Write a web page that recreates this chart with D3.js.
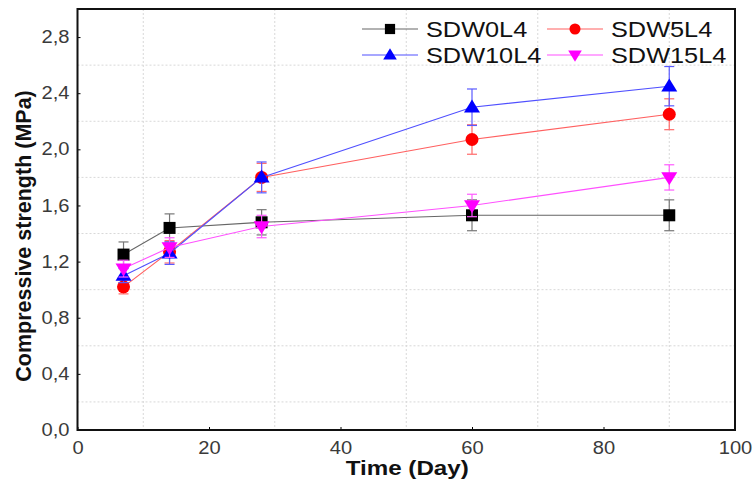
<!DOCTYPE html>
<html>
<head>
<meta charset="utf-8">
<script src="https://cdn.jsdelivr.net/npm/d3@7"></script>
<style>
  html, body { margin: 0; padding: 0; background: #fff; }
  svg { display: block; font-family: "Liberation Sans", Arial, sans-serif; }
</style>
</head>
<body>
<svg id="chart" width="753" height="481"></svg>
<script>
// Curing time (days)
const days = [7, 14, 28, 60, 90];

// Series names
const seriesNames = ["SDW0L4", "SDW5L4", "SDW10L4", "SDW15L4"];

// Mean compressive strength (MPa)
const sdw0l4  = [1.25, 1.44, 1.48, 1.53, 1.53];
const sdw5l4  = [1.02, 1.27, 1.80, 2.07, 2.25];
const sdw10l4 = [1.10, 1.26, 1.80, 2.30, 2.45];
const sdw15l4 = [1.15, 1.30, 1.45, 1.60, 1.80];

// Standard deviations (MPa)
const sdw0l4Err  = [0.09, 0.10, 0.09, 0.11, 0.11];
const sdw5l4Err  = [0.05, 0.08, 0.10, 0.105, 0.11];
const sdw10l4Err = [0.05, 0.08, 0.11, 0.13, 0.14];
const sdw15l4Err = [0.06, 0.07, 0.08, 0.08, 0.09];

// Axis ticks
const xTicks = [0, 20, 40, 60, 80, 100];
const yTicks = [0, 0.4, 0.8, 1.2, 1.6, 2.0, 2.4, 2.8];
const xGrid = [10, 30, 50, 70, 90];
const yGrid = [0.2, 0.6, 1.0, 1.4, 1.8, 2.2, 2.6];

const styles = [
  { line: "#666666", fill: "#000000", err: "#777777", shape: "square" },
  { line: "#ff6060", fill: "#ff0000", err: "#ff6a6a", shape: "circle" },
  { line: "#5050ff", fill: "#0000ff", err: "#5a5aff", shape: "up" },
  { line: "#ff50ff", fill: "#ff00ff", err: "#ff5aff", shape: "down" }
];

const series = [
  { name: seriesNames[0], values: sdw0l4,  errs: sdw0l4Err },
  { name: seriesNames[1], values: sdw5l4,  errs: sdw5l4Err },
  { name: seriesNames[2], values: sdw10l4, errs: sdw10l4Err },
  { name: seriesNames[3], values: sdw15l4, errs: sdw15l4Err }
];

const svg = d3.select("#chart");
const plot = { left: 77.5, right: 735, top: 9, bottom: 430 };
const stretch = 1.15; // horizontal widening of the lettering

const x = d3.scaleLinear().domain([0, 100]).range([plot.left, plot.right]);
const y = d3.scaleLinear().domain([0, 3.0]).range([plot.bottom, plot.top]);

const fmt = d => d3.format(".1f")(d).replace(".", ",");

// Widen a horizontal text element by the stretch factor
function widen(sel) {
  sel.each(function () {
    const w = this.getComputedTextLength();
    d3.select(this).attr("textLength", w * stretch).attr("lengthAdjust", "spacingAndGlyphs");
  });
  return sel;
}

// Dashed grid
const grid = svg.append("g");
grid.selectAll("line.gx").data(xGrid).join("line")
  .attr("x1", d => x(d)).attr("x2", d => x(d))
  .attr("y1", plot.top).attr("y2", plot.bottom)
  .attr("stroke", "#d8d8d8").attr("stroke-width", 1).attr("stroke-dasharray", "2,2");
grid.selectAll("line.gy").data(yGrid).join("line")
  .attr("x1", plot.left).attr("x2", plot.right)
  .attr("y1", d => y(d)).attr("y2", d => y(d))
  .attr("stroke", "#d8d8d8").attr("stroke-width", 1).attr("stroke-dasharray", "2,2");

// Axes
const xAxis = d3.axisBottom(x).tickValues(xTicks).tickSize(-3).tickPadding(8).tickFormat(d3.format("d"));
const yAxis = d3.axisLeft(y).tickValues(yTicks).tickSize(-3).tickPadding(8).tickFormat(fmt);

const gx = svg.append("g").attr("transform", `translate(0,${plot.bottom})`).call(xAxis);
const gy = svg.append("g").attr("transform", `translate(${plot.left},0)`).call(yAxis);
[gx, gy].forEach(g => {
  g.select(".domain").remove();
  g.selectAll(".tick line").attr("stroke", "#000");
  g.selectAll(".tick text").attr("fill", "#3a3a3a").attr("font-size", 17.5)
    .attr("font-family", "'Liberation Sans', Arial, sans-serif");
});
gx.selectAll(".tick text").attr("dy", "0.9em");
widen(gx.selectAll(".tick text"));
widen(gy.selectAll(".tick text"));

// Frame
svg.append("rect")
  .attr("x", plot.left).attr("y", plot.top)
  .attr("width", plot.right - plot.left).attr("height", plot.bottom - plot.top)
  .attr("fill", "none").attr("stroke", "#111").attr("stroke-width", 2);

// Axis titles
widen(svg.append("text")
  .attr("x", (plot.left + plot.right) / 2 + 1).attr("y", 475)
  .attr("text-anchor", "middle").attr("font-weight", "bold").attr("font-size", 21)
  .attr("fill", "#111").text("Time (Day)"));
svg.append("text")
  .attr("transform", `translate(31,236) rotate(-90)`)
  .attr("text-anchor", "middle").attr("font-weight", "bold").attr("font-size", 21.5)
  .attr("fill", "#111").text("Compressive strength (MPa)");

// Marker drawing helper
function marker(g, shape, cx, cy, fill, scale = 1) {
  if (shape === "square") {
    const s = 12 * scale;
    g.append("rect").attr("x", cx - s / 2).attr("y", cy - s / 2).attr("width", s).attr("height", s).attr("fill", fill);
  } else if (shape === "circle") {
    g.append("circle").attr("cx", cx).attr("cy", cy).attr("r", 6.5 * scale).attr("fill", fill);
  } else if (shape === "up") {
    const w = 8 * scale, h = 13 * scale;
    g.append("path").attr("d", `M${cx},${cy - h * 0.6}L${cx + w},${cy + h * 0.4}L${cx - w},${cy + h * 0.4}Z`).attr("fill", fill);
  } else {
    const w = 8 * scale, h = 13 * scale;
    g.append("path").attr("d", `M${cx},${cy + h * 0.6}L${cx + w},${cy - h * 0.4}L${cx - w},${cy - h * 0.4}Z`).attr("fill", fill);
  }
}

const lineGen = d3.line().x(d => x(d.day)).y(d => y(d.v));

series.forEach((s, i) => {
  const st = styles[i];
  const pts = days.map((d, j) => ({ day: d, v: s.values[j], e: s.errs[j] }));
  const g = svg.append("g");

  // Error bars
  pts.forEach(p => {
    const cx = x(p.day);
    g.append("line").attr("x1", cx).attr("x2", cx).attr("y1", y(p.v - p.e)).attr("y2", y(p.v + p.e))
      .attr("stroke", st.err).attr("stroke-width", 1.2);
    [p.v - p.e, p.v + p.e].forEach(v => {
      g.append("line").attr("x1", cx - 5).attr("x2", cx + 5).attr("y1", y(v)).attr("y2", y(v))
        .attr("stroke", st.err).attr("stroke-width", 1.2);
    });
  });

  // Connecting line
  g.append("path").datum(pts).attr("d", lineGen)
    .attr("fill", "none").attr("stroke", st.line).attr("stroke-width", 1.1);

  // Markers
  pts.forEach(p => marker(g, st.shape, x(p.day), y(p.v), st.fill));
});

// Legend
const legendPos = [
  { lx: 362, ly: 29 }, { lx: 547, ly: 29 },
  { lx: 362, ly: 55 }, { lx: 547, ly: 55 }
];
const legend = svg.append("g");
series.forEach((s, i) => {
  const st = styles[i];
  const p = legendPos[i];
  legend.append("line").attr("x1", p.lx).attr("x2", p.lx + 56).attr("y1", p.ly).attr("y2", p.ly)
    .attr("stroke", st.line).attr("stroke-width", 1.1);
  marker(legend, st.shape, p.lx + 28, p.ly, st.fill, 0.85);
  widen(legend.append("text").attr("x", p.lx + 64).attr("y", p.ly).attr("dy", "0.36em")
    .attr("font-size", 22).attr("fill", "#111").text(s.name));
});
</script>
</body>
</html>
